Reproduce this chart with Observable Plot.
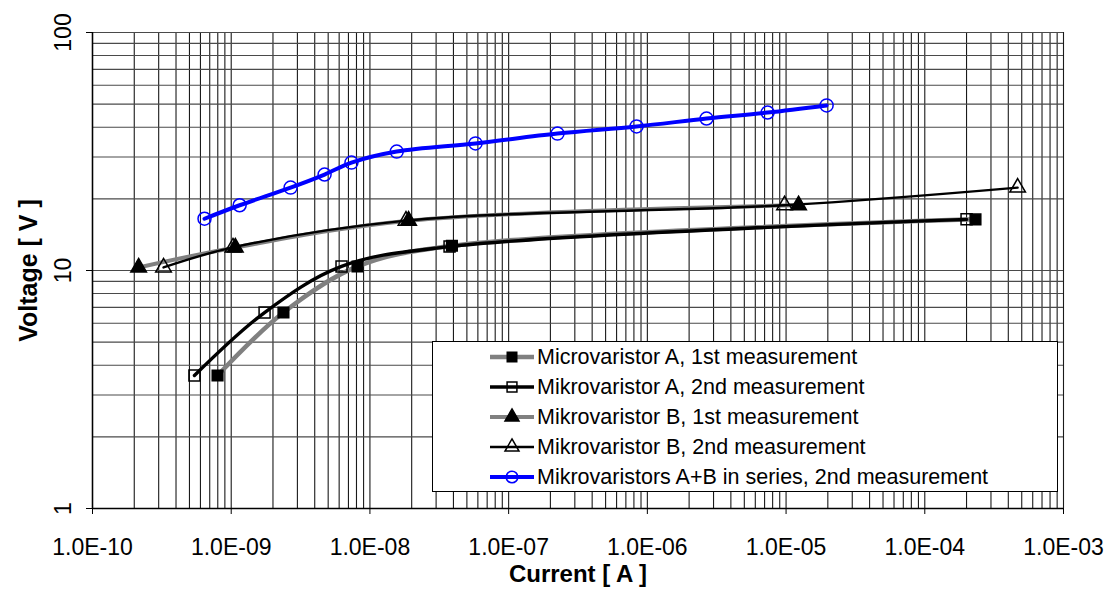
<!DOCTYPE html>
<html><head><meta charset="utf-8">
<script src="https://cdn.jsdelivr.net/npm/d3@7"></script>
<script src="https://cdn.jsdelivr.net/npm/@observablehq/plot@0.6"></script>
<style>
body{margin:0;background:#fff;font-family:"Liberation Sans",Arial,sans-serif}
#wrap{position:relative;width:1111px;height:589px;overflow:hidden}
#legend{position:absolute;left:432px;top:341px;width:624px;height:149px;border:1.5px solid #000;background:#fff}
.row{position:absolute;left:0;height:24px;display:flex;align-items:center}
.row svg{margin-left:56px;flex:none}
.row span{margin-left:2px;font-size:21.5px;color:#000;white-space:nowrap}
</style></head><body><div id="wrap"></div>
<script>
// ---- data ----
const seriesNames = [
  "Microvaristor A, 1st measurement",
  "Mikrovaristor A, 2nd measurement",
  "Mikrovaristor B, 1st measurement",
  "Mikrovaristor B, 2nd measurement",
  "Mikrovaristors A+B in series, 2nd measurement"
];
const a1Current = [7.97e-10, 2.38e-9, 8.14e-9, 3.9e-8, 2.32e-4];
const a1Voltage = [3.62, 6.66, 10.4, 12.7, 16.4];
const a2Current = [5.43e-10, 1.74e-9, 6.24e-9, 3.75e-8, 2.0e-4];
const a2Voltage = [3.62, 6.66, 10.4, 12.6, 16.4];
const b1Current = [2.15e-10, 1.07e-9, 1.90e-8, 1.23e-5];
const b1Voltage = [10.3, 12.5, 16.2, 18.8];
const b2Current = [3.25e-10, 1.03e-9, 1.82e-8, 9.75e-6, 4.67e-4];
const b2Voltage = [10.3, 12.5, 16.2, 18.8, 22.3];
const abCurrent = [6.42e-10, 1.15e-9, 2.68e-9, 4.71e-9, 7.36e-9, 1.56e-8, 5.77e-8, 2.25e-7, 8.36e-7, 2.67e-6, 7.36e-6, 1.96e-5];
const abVoltage = [16.5, 18.8, 22.3, 25.3, 28.4, 31.6, 34.2, 37.6, 40.3, 43.5, 46.1, 49.4];
const xTicks = [1e-10, 1e-9, 1e-8, 1e-7, 1e-6, 1e-5, 1e-4, 1e-3];
const xTickLabels = ["1.0E-10","1.0E-09","1.0E-08","1.0E-07","1.0E-06","1.0E-05","1.0E-04","1.0E-03"];
const yTicks = [1, 10, 100];
const yTickLabels = ["1", "10", "100"];
const xTitle = "Current [ A ]";
const yTitle = "Voltage [ V ]";

// ---- styles ----
const styles = [
  {line:"#808080", lw:4.5, symbol:"square", fill:"#000", mstroke:"#000", r:6},
  {line:"#000", lw:3.4, symbol:"square", fill:"none", mstroke:"#000", r:6.2},
  {line:"#808080", lw:4, symbol:"triangle", fill:"#000", mstroke:"#000", r:5.8},
  {line:"#000", lw:2.4, symbol:"triangle", fill:"none", mstroke:"#000", r:5.8},
  {line:"#0000ff", lw:4, symbol:"circle", fill:"none", mstroke:"#0000ff", r:6.5}
];

const table = (xs, ys) => xs.map((x, i) => ({x, y: ys[i]}));
const series = [
  table(a1Current, a1Voltage),
  table(a2Current, a2Voltage),
  table(b1Current, b1Voltage),
  table(b2Current, b2Voltage),
  table(abCurrent, abVoltage)
];

const xGrid = xTicks.slice(0, -1).flatMap(d => d3.range(1, 10).map(m => m * d)).concat([xTicks[xTicks.length - 1]]);
const yGrid = yTicks.slice(0, -1).flatMap(d => d3.range(1, 10).map(m => m * d)).concat([yTicks[yTicks.length - 1]]);

const seriesMarks = series.flatMap((data, i) => {
  const s = styles[i];
  return [
    Plot.line(data, {x: "x", y: "y", curve: "catmull-rom", stroke: s.line, strokeWidth: s.lw, strokeLinejoin: "round", strokeLinecap: "round"}),
    Plot.dot(data, {x: "x", y: "y", symbol: s.symbol, r: s.r, fill: s.fill, stroke: s.mstroke, strokeWidth: 1.5})
  ];
});

const chart = Plot.plot({
  width: 1111, height: 589,
  marginLeft: 92, marginRight: 48, marginTop: 32, marginBottom: 81,
  style: {fontFamily: '"Liberation Sans", Arial, sans-serif', background: "#fff", color: "#000"},
  x: {type: "log", domain: [1e-10, 1e-3]},
  y: {type: "log", domain: [1, 100]},
  marks: [
    Plot.ruleX(xGrid, {stroke: "#1a1a1a", strokeWidth: 1.1}),
    Plot.ruleY(yGrid, {stroke: "#4a4a4a", strokeWidth: 1.1}),
    Plot.ruleX([xTicks[0]], {stroke: "#000", strokeWidth: 1.5}),
    Plot.ruleY([yTicks[0]], {stroke: "#000", strokeWidth: 1.5}),
    Plot.axisX({ticks: xTicks, tickFormat: d => xTickLabels[xTicks.indexOf(d)], tickSize: 6, tickPadding: 24, fontSize: 23, label: null, stroke: "#000"}),
    Plot.axisY({ticks: yTicks, tickFormat: d => yTickLabels[yTicks.indexOf(d)], tickSize: 6, tickRotate: -90, tickPadding: 16, fontSize: 23, label: null, stroke: "#000"}),
    Plot.text([xTitle], {frameAnchor: "bottom", dy: 66, text: d => d, fontSize: 24, fontWeight: "bold", textAnchor: "middle", lineAnchor: "middle"}),
    Plot.text([yTitle], {frameAnchor: "left", dx: -64, rotate: -90, text: d => d, fontSize: 25, fontWeight: "bold", textAnchor: "middle", lineAnchor: "middle"}),
    ...seriesMarks
  ]
});

const wrap = document.getElementById("wrap");
wrap.appendChild(chart);

// ---- legend ----
const legend = d3.select(wrap).append("div").attr("id", "legend");
const rowCenters = [15, 45, 75, 105, 135];
seriesNames.forEach((name, i) => {
  const s = styles[i];
  const row = legend.append("div").attr("class", "row").style("top", (rowCenters[i] - 12) + "px");
  const svg = row.append("svg").attr("width", 46).attr("height", 24);
  svg.append("line").attr("x1", 1).attr("x2", 45).attr("y1", 12).attr("y2", 12)
    .attr("stroke", s.line).attr("stroke-width", s.lw);
  const sym = {square: d3.symbolSquare, triangle: d3.symbolTriangle, circle: d3.symbolCircle}[s.symbol];
  svg.append("path").attr("transform", "translate(23,12)")
    .attr("d", d3.symbol(sym, Math.PI * s.r * s.r * 0.8)())
    .attr("fill", s.fill).attr("stroke", s.mstroke).attr("stroke-width", 1.5);
  row.append("span").text(name);
});
</script></body></html>
